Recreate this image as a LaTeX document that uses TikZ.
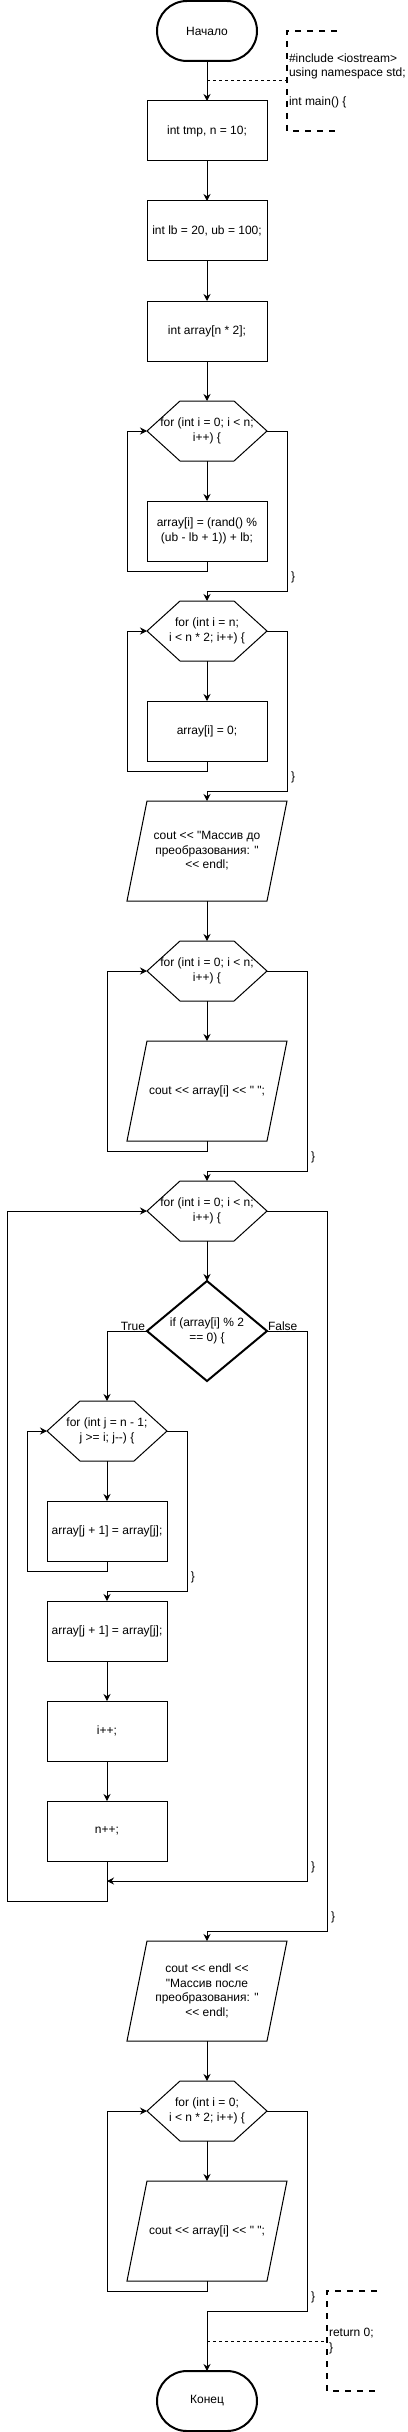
\documentclass[tikz,border=0pt]{standalone}
\usepackage{fontspec}
\newfontfamily\lsans{Liberation Sans}
\usetikzlibrary{arrows.meta}
\begin{document}
\begin{tikzpicture}[x=1pt,y=-1pt,
  base/.style={inner sep=0pt, outer sep=0pt, align=center, font=\lsans\fontsize{12}{14.5}\selectfont},
  procbox/.style={base, draw, line width=1pt, minimum width=120pt, minimum height=60pt},
  termbox/.style={base, draw, line width=2pt, rounded corners=30pt, minimum width=100pt, minimum height=60pt},
  hexbox/.style={base, minimum width=120pt, minimum height=60pt},
  parabox/.style={base, minimum width=160pt, minimum height=100pt},
  decbox/.style={base, minimum width=120pt, minimum height=100pt},
  outline/.style={line width=1pt, line join=miter},
  decline/.style={line width=2pt, line join=miter},
  flow/.style={line width=1pt, -{Stealth[length=7pt,width=7pt]}},
  assoc/.style={line width=1pt, dash pattern=on 3pt off 3pt},
  bracket/.style={line width=2pt, dash pattern=on 6pt off 6pt},
  brace/.style={base, anchor=center},
  note/.style={base, anchor=west, align=left},
  edgelabel/.style={base}
]
\useasboundingbox (0,0) rectangle (407,2432);

% nodes
\node[termbox] (start) at (207,31) {Начало};
\node[procbox] (b1) at (207,131) {int tmp, n = 10;};
\node[procbox] (b2) at (207,231) {int lb = 20, ub = 100;};
\node[procbox] (b3) at (207,331) {int array[n * 2];};
\node[hexbox] (h1) at (207,431) {for (int i = 0; i < n;\\ i++) \{};
\node[procbox] (b4) at (207,531) {array[i] = (rand() \%\\ (ub - lb + 1)) + lb;};
\node[hexbox] (h2) at (207,631) {for (int i = n;\\ i < n * 2; i++) \{};
\node[procbox] (b5) at (207,731) {array[i] = 0;};
\node[parabox] (p1) at (207,851) {cout << "Массив до\\ преобразования: "\\ << endl;};
\node[hexbox] (h3) at (207,971) {for (int i = 0; i < n;\\ i++) \{};
\node[parabox] (p2) at (207,1091) {cout << array[i] << " ";};
\node[hexbox] (h4) at (207,1211) {for (int i = 0; i < n;\\ i++) \{};
\node[decbox] (d1) at (207,1331) {if (array[i] \% 2\\ == 0) \{};
\node[hexbox] (h5) at (107,1431) {for (int j = n - 1;\\ j >= i; j-{}-) \{};
\node[procbox] (b6) at (107,1531) {array[j + 1] = array[j];};
\node[procbox] (b7) at (107,1631) {array[j + 1] = array[j];};
\node[procbox] (b8) at (107,1731) {i++;};
\node[procbox] (b9) at (107,1831) {n++;};
\node[parabox] (p3) at (207,1991) {cout << endl <<\\ "Массив после\\ преобразования: "\\ << endl;};
\node[hexbox] (h6) at (207,2111) {for (int i = 0;\\ i < n * 2; i++) \{};
\node[parabox] (p4) at (207,2231) {cout << array[i] << " ";};
\node[termbox] (end) at (207,2401) {Конец};

% shape outlines
\foreach \n in {h1,h2,h3,h4,h5,h6}
  \draw[outline] (\n.west) -- ([xshift=33pt]\n.north west) -- ([xshift=-33pt]\n.north east) -- (\n.east) -- ([xshift=-33pt]\n.south east) -- ([xshift=33pt]\n.south west) -- cycle;
\foreach \n in {p1,p2,p3,p4}
  \draw[outline] ([xshift=20pt]\n.north west) -- (\n.north east) -- ([xshift=-20pt]\n.south east) -- (\n.south west) -- cycle;
\draw[decline] (d1.north) -- (d1.east) -- (d1.south) -- (d1.west) -- cycle;

% annotations
\node[note] (ann1) at (289,81) {\#include <iostream>\\using namespace std;\\ \\int main() \{};
\draw[bracket] (337,31) -- (287,31) -- (287,131) -- (337,131);
\coordinate (ann1w) at (287,81);
\coordinate (c1) at (207,81);
\node[note] (ann2) at (329,2341) {return 0;\\\}};
\draw[bracket] (377,2291) -- (327,2291) -- (327,2391) -- (377,2391);
\coordinate (ann2w) at (327,2341);
\coordinate (c2) at (207,2341);
\coordinate (m1) at (107,1881);

% connectors
\draw[flow] (start) -- (b1);
\draw[flow] (b1) -- (b2);
\draw[flow] (b2) -- (b3);
\draw[flow] (b3) -- (h1);
\draw[flow] (h1) -- (b4);
\draw[flow] (b4.south) -- ++(0,10) -| (127,431) -- (h1.west);
\draw[flow] (h1.east) -- (287,431) |- (207,591) -- (h2.north);
\draw[flow] (h2) -- (b5);
\draw[flow] (b5.south) -- ++(0,10) -| (127,631) -- (h2.west);
\draw[flow] (h2.east) -- (287,631) |- (207,791) -- (p1.north);
\draw[flow] (p1) -- (h3);
\draw[flow] (h3) -- (p2);
\draw[flow] (p2.south) -- ++(0,10) -| (107,971) -- (h3.west);
\draw[flow] (h3.east) -- (307,971) |- (207,1171) -- (h4.north);
\draw[flow] (h4) -- (d1);
\draw[flow] (d1.west) -| (h5.north);
\draw[flow] (h5) -- (b6);
\draw[flow] (b6.south) -- ++(0,10) -| (27,1431) -- (h5.west);
\draw[flow] (h5.east) -- (187,1431) |- (107,1591) -- (b7.north);
\draw[flow] (b7) -- (b8);
\draw[flow] (b8) -- (b9);
\draw[flow] (d1.east) -- (307,1331) |- (m1);
\draw[flow] (b9.south) -- (107,1901) -| (7,1211) -- (h4.west);
\draw[flow] (h4.east) -- (327,1211) |- (207,1931) -- (p3.north);
\draw[flow] (p3) -- (h6);
\draw[flow] (h6) -- (p4);
\draw[flow] (p4.south) -- ++(0,10) -| (107,2111) -- (h6.west);
\draw[flow] (h6.east) -- (307,2111) |- (207,2311) -- (end.north);
\draw[assoc] (c1) -- (ann1w);
\draw[assoc] (c2) -- (ann2w);

% labels
\node[edgelabel, anchor=base east] (lt) at (145,1330) {True};
\node[edgelabel, anchor=base west] (lf) at (268,1330) {False};
\node[brace] (r1) at (293,577) {\}};
\node[brace] (r2) at (293,777) {\}};
\node[brace] (r3) at (313,1157) {\}};
\node[brace] (r4) at (193,1577) {\}};
\node[brace] (r5) at (313,1867) {\}};
\node[brace] (r6) at (333,1917) {\}};
\node[brace] (r7) at (313,2297) {\}};
\end{tikzpicture}
\end{document}
